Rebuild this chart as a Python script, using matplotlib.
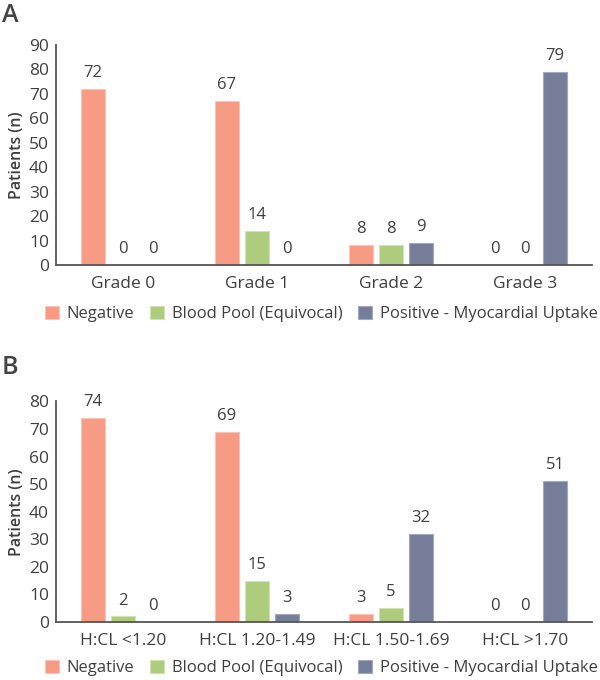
import matplotlib
matplotlib.use("Agg")
import matplotlib.pyplot as plt
import numpy as np
from matplotlib.patches import Patch

plt.rcParams['font.family'] = ['Open Sans', 'DejaVu Sans']

series_names = ["Negative", "Blood Pool (Equivocal)", "Positive - Myocardial Uptake"]
colors = ["#F79B85", "#AECC7E", "#767D99"]
edge_colors = ["#FBC3B6", "#CFE3B3", "#A3A9BD"]

cats_a = ["Grade 0", "Grade 1", "Grade 2", "Grade 3"]
neg_a = [72, 67, 8, 0]
pool_a = [0, 14, 8, 0]
pos_a = [0, 0, 9, 79]

cats_b = ["H:CL <1.20", "H:CL 1.20-1.49", "H:CL 1.50-1.69", "H:CL >1.70"]
neg_b = [74, 69, 3, 0]
pool_b = [2, 15, 5, 0]
pos_b = [0, 3, 32, 51]

TEXT = "#3F3F3F"
SPINE = "#555555"

fig = plt.figure(figsize=(6, 6.8), dpi=100)

def panel(rect, cats, vals, ymax, letter, letter_y, legend_y):
    ax = fig.add_axes(rect)
    x = np.arange(len(cats))
    off = 0.224
    w = 0.178
    for i, (v, c, ec) in enumerate(zip(vals, colors, edge_colors)):
        pos = x + (i - 1) * off
        ax.bar(pos, v, width=w, color=c, edgecolor=ec, linewidth=0.8)
        for xi, vi in zip(pos, v):
            ax.annotate(str(vi), (xi, vi), xytext=(0, 11.5), textcoords="offset points",
                        ha="center", va="center", fontsize=12, color=TEXT)
    ax.set_xlim(-0.5, len(cats) - 0.5)
    ax.set_ylim(0, ymax)
    ax.set_yticks(np.arange(0, ymax + 1, 10))
    ax.set_xticks(x)
    ax.set_xticklabels(cats)
    for s in ["top", "right"]:
        ax.spines[s].set_visible(False)
    for s in ["left", "bottom"]:
        ax.spines[s].set_color(SPINE)
        ax.spines[s].set_linewidth(1.3)
    ax.tick_params(axis="both", length=0, labelsize=12.5, colors=TEXT)
    ax.tick_params(axis="x", pad=8)
    ax.tick_params(axis="y", pad=5)
    ax.set_ylabel("Patients (n)", fontsize=11.5, color=TEXT, fontweight="semibold", labelpad=3)
    fig.text(0.003, letter_y, letter, fontsize=18, color="#444444", ha="left", va="center",
             fontweight="semibold")
    handles = [Patch(facecolor=c, edgecolor=ec, linewidth=0.8) for c, ec in zip(colors, edge_colors)]
    fig.legend(handles, series_names, loc="center left", bbox_to_anchor=(45 / 600, legend_y),
               ncol=3, frameon=False, fontsize=12, handlelength=0.85, handleheight=0.8,
               handletextpad=0.45, columnspacing=0.95, borderpad=0, borderaxespad=0,
               labelcolor=TEXT)
    return ax

panel([56 / 600, 1 - 265 / 680, 536 / 600, 220 / 680], cats_a, [neg_a, pool_a, pos_a], 90,
      "A", 1 - 15 / 680, 1 - 314 / 680)
panel([56 / 600, 1 - 622 / 680, 536 / 600, 220.5 / 680], cats_b, [neg_b, pool_b, pos_b], 80,
      "B", 1 - 368 / 680, 1 - 668 / 680)

fig.savefig("out.png", dpi=100)
